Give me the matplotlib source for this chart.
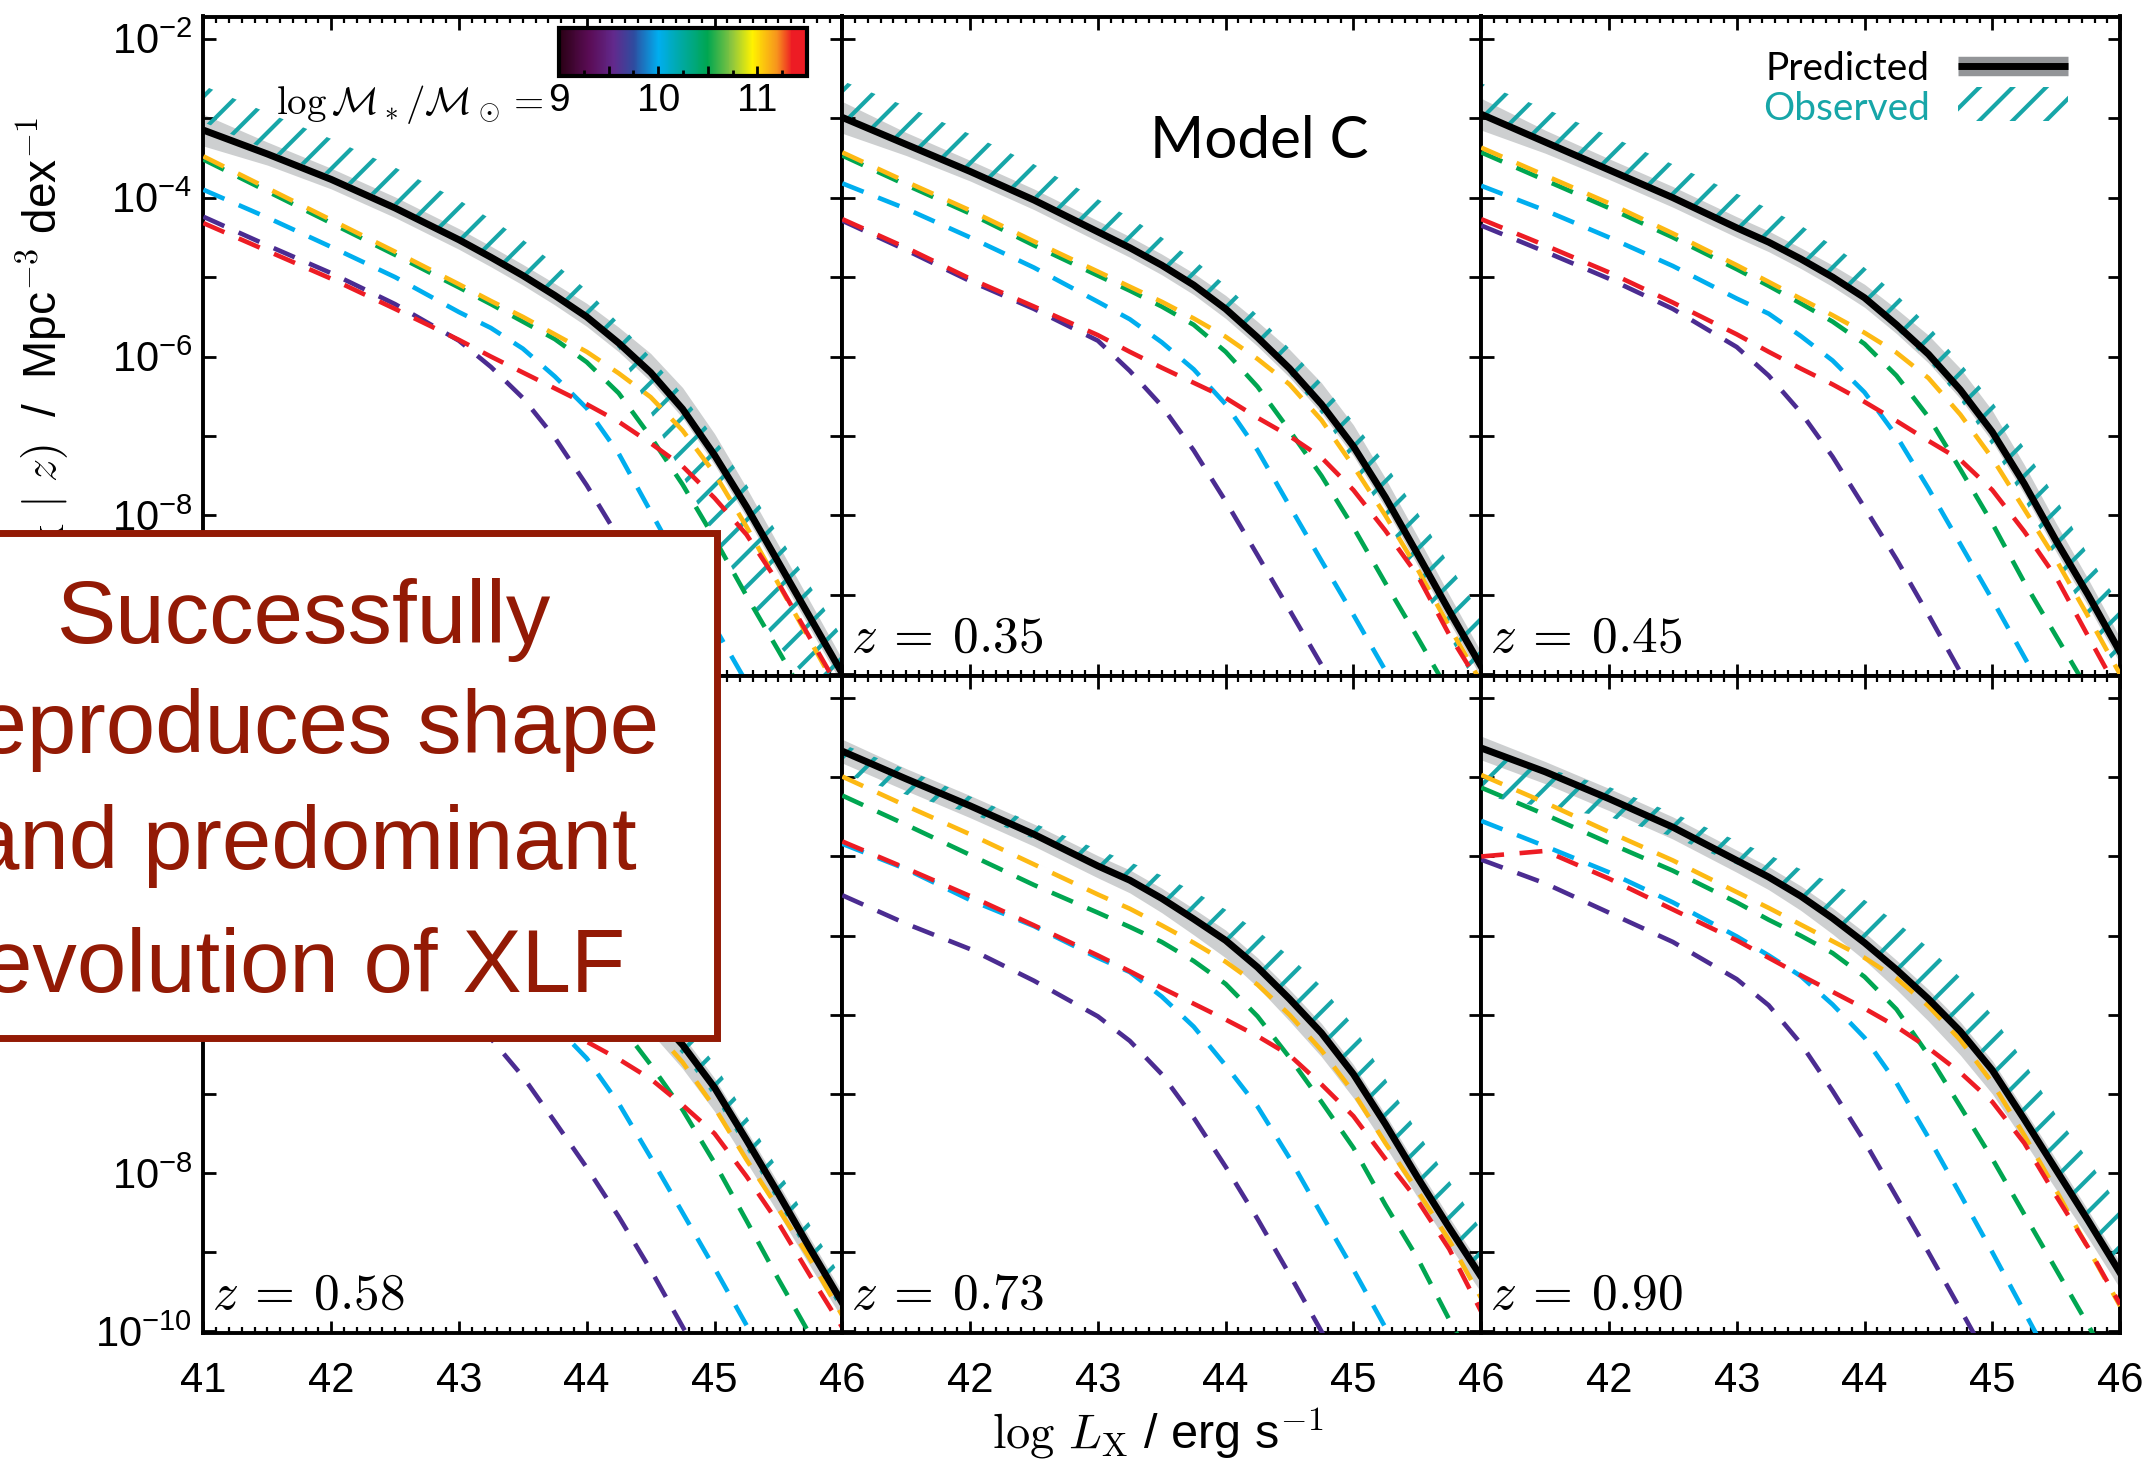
import numpy as np
import matplotlib
matplotlib.use("Agg")
import matplotlib.pyplot as plt
from matplotlib.ticker import MultipleLocator, LogLocator, NullLocator, FuncFormatter, FixedLocator
from matplotlib.colors import LinearSegmentedColormap, Normalize
from matplotlib.cm import ScalarMappable
from matplotlib.patches import Rectangle

nan = np.nan

# ---------------- data (log10 of space density, Mpc^-3 dex^-1) ----------------
LX = [41, 41.5, 42, 42.5, 43, 43.25, 43.5, 43.75, 44, 44.25, 44.5, 44.75, 45, 45.25, 45.5, 45.75, 46]

# panel 1 (top-left)
p1_black  = [-3.15, -3.45, -3.77, -4.13, -4.53, -4.75, -4.98, -5.23, -5.50, -5.83, -6.20, -6.66, -7.24, -7.89, -8.59, -9.29, -9.99]
p1_obs_hi = [-2.59, -2.93, -3.26, -3.62, -4.03, -4.27, -4.53, -4.83, -5.16, -5.58, -6.01, -6.48, -7.03, -7.61, -8.24, -8.89, -9.54]
p1_obs_lo = [-3.05, -3.40, -3.72, -4.08, -4.50, -4.72, -4.95, -5.20, -5.48, -5.90, -6.70, -7.50, -8.25, -9.00, -9.63, -10.1, -10.5]
p1_orange = [-3.48, -3.88, -4.28, -4.68, -5.09, -5.30, -5.50, -5.72, -5.94, -6.21, -6.51, -6.93, -7.47, -8.14, -8.86, -9.58, -10.3]
p1_green  = [-3.52, -3.92, -4.32, -4.72, -5.13, -5.34, -5.56, -5.78, -6.07, -6.46, -7.01, -7.61, -8.29, -9.01, -9.70, -10.4, -11.1]
p1_cyan   = [-3.90, -4.25, -4.62, -5.00, -5.44, -5.64, -5.90, -6.25, -6.65, -7.22, -7.95, -8.68, -9.40, -10.1, -10.8, nan, nan]
p1_purple = [-4.24, -4.60, -4.95, -5.34, -5.80, -6.13, -6.52, -7.02, -7.62, -8.28, -8.98, -9.70, -10.42, -11.1, nan, nan, nan]
p1_red    = [-4.32, -4.67, -5.02, -5.40, -5.79, -6.00, -6.20, -6.40, -6.60, -6.82, -7.09, -7.38, -7.78, -8.24, -8.85, -9.55, -10.25]

# panel 2 (z = 0.35)
p2_black  = [-2.99, -3.33, -3.67, -4.03, -4.43, -4.63, -4.85, -5.10, -5.40, -5.76, -6.15, -6.60, -7.13, -7.77, -8.48, -9.20, -9.90]
p2_obs_hi = [-2.53, -2.85, -3.20, -3.58, -4.02, -4.25, -4.50, -4.78, -5.10, -5.48, -5.90, -6.34, -6.82, -7.35, -7.96, -8.62, -9.25]
p2_obs_lo = [-2.95, -3.30, -3.63, -3.98, -4.40, -4.60, -4.82, -5.08, -5.40, -5.78, -6.22, -6.72, -7.32, -8.02, -8.77, -9.52, -10.25]
p2_orange = [-3.43, -3.80, -4.16, -4.55, -4.93, -5.12, -5.31, -5.52, -5.75, -6.03, -6.35, -6.80, -7.38, -8.00, -8.67, -9.40, -10.1]
p2_green  = [-3.47, -3.84, -4.20, -4.60, -4.98, -5.17, -5.37, -5.60, -5.94, -6.38, -6.93, -7.50, -8.15, -8.85, -9.53, -10.23, -10.92]
p2_cyan   = [-3.82, -4.14, -4.50, -4.88, -5.31, -5.53, -5.82, -6.16, -6.60, -7.18, -7.88, -8.57, -9.25, -9.95, -10.7, nan, nan]
p2_purple = [-4.29, -4.66, -5.05, -5.40, -5.80, -6.18, -6.62, -7.18, -7.82, -8.50, -9.19, -9.88, -10.57, nan, nan, nan, nan]
p2_red    = [-4.27, -4.63, -5.02, -5.37, -5.73, -5.94, -6.14, -6.33, -6.52, -6.77, -7.00, -7.27, -7.68, -8.19, -8.75, -9.50, -10.15]

# panel 3 (z = 0.45)
p3_black  = [-2.95, -3.30, -3.65, -4.00, -4.38, -4.56, -4.77, -5.00, -5.26, -5.60, -5.97, -6.42, -6.95, -7.60, -8.32, -9.00, -9.72]
p3_obs_hi = [-2.56, -2.88, -3.22, -3.58, -3.95, -4.14, -4.35, -4.60, -4.88, -5.22, -5.61, -6.08, -6.57, -7.15, -7.79, -8.50, -9.13]
p3_obs_lo = [-2.98, -3.32, -3.67, -4.03, -4.42, -4.61, -4.80, -5.04, -5.30, -5.66, -6.05, -6.55, -7.12, -7.80, -8.55, -9.30, -10.0]
p3_orange = [-3.37, -3.72, -4.07, -4.45, -4.85, -5.06, -5.27, -5.48, -5.70, -5.95, -6.27, -6.73, -7.28, -7.92, -8.56, -9.27, -10.0]
p3_green  = [-3.43, -3.78, -4.13, -4.50, -4.90, -5.11, -5.33, -5.56, -5.84, -6.24, -6.76, -7.42, -8.10, -8.84, -9.52, -10.2, -10.9]
p3_cyan   = [-3.85, -4.16, -4.50, -4.86, -5.27, -5.46, -5.74, -6.05, -6.45, -7.00, -7.66, -8.36, -9.06, -9.78, -10.5, nan, nan]
p3_purple = [-4.35, -4.68, -5.02, -5.40, -5.88, -6.24, -6.70, -7.26, -7.90, -8.55, -9.25, -9.97, -10.7, nan, nan, nan, nan]
p3_red    = [-4.27, -4.60, -4.94, -5.32, -5.72, -5.94, -6.15, -6.35, -6.57, -6.81, -7.06, -7.30, -7.68, -8.20, -8.78, -9.52, -10.25]

# panel 4 (z = 0.58)
p4_black  = [-2.80, -3.15, -3.50, -3.88, -4.28, -4.48, -4.70, -4.95, -5.23, -5.56, -5.94, -6.38, -6.92, -7.58, -8.26, -8.96, -9.64]
p4_obs_hi = [-2.45, -2.78, -3.12, -3.48, -3.86, -4.06, -4.28, -4.55, -4.86, -5.22, -5.62, -6.08, -6.62, -7.28, -7.96, -8.66, -9.34]
p4_obs_lo = [-2.95, -3.30, -3.65, -4.02, -4.42, -4.62, -4.84, -5.08, -5.35, -5.68, -6.06, -6.50, -7.04, -7.70, -8.38, -9.08, -9.76]
p4_orange = [-3.20, -3.55, -3.92, -4.30, -4.70, -4.90, -5.10, -5.32, -5.55, -5.81, -6.14, -6.60, -7.17, -7.83, -8.45, -9.09, -9.80]
p4_green  = [-3.35, -3.70, -4.05, -4.42, -4.80, -5.00, -5.20, -5.43, -5.70, -6.10, -6.63, -7.20, -7.87, -8.60, -9.34, -10.05, -10.8]
p4_cyan   = [-3.85, -4.15, -4.50, -4.88, -5.30, -5.52, -5.80, -6.13, -6.55, -7.12, -7.80, -8.50, -9.20, -9.92, -10.65, nan, nan]
p4_purple = [-4.40, -4.75, -5.10, -5.50, -5.92, -6.30, -6.78, -7.35, -7.93, -8.55, -9.22, -9.94, -10.65, nan, nan, nan, nan]
p4_red    = [-4.10, -4.45, -4.82, -5.20, -5.60, -5.79, -5.98, -6.16, -6.34, -6.56, -6.81, -7.14, -7.50, -8.04, -8.63, -9.30, -9.95]

# panel 5 (z = 0.73)
p5_black  = [-2.67, -3.02, -3.36, -3.72, -4.12, -4.30, -4.53, -4.79, -5.06, -5.40, -5.80, -6.23, -6.75, -7.38, -8.05, -8.69, -9.31]
p5_obs_hi = [-2.58, -2.90, -3.24, -3.58, -3.91, -4.07, -4.24, -4.44, -4.67, -4.94, -5.26, -5.64, -6.14, -6.81, -7.48, -8.10, -8.72]
p5_obs_lo = [-2.95, -3.22, -3.45, -3.78, -4.13, -4.32, -4.52, -4.76, -5.03, -5.36, -5.76, -6.18, -6.68, -7.35, -8.02, -8.65, -9.26]
p5_orange = [-2.99, -3.36, -3.72, -4.10, -4.48, -4.66, -4.87, -5.09, -5.33, -5.62, -6.00, -6.45, -6.98, -7.62, -8.22, -8.85, -9.58]
p5_green  = [-3.23, -3.60, -3.98, -4.36, -4.71, -4.89, -5.08, -5.32, -5.61, -6.02, -6.54, -7.10, -7.68, -8.40, -9.07, -9.85, -10.6]
p5_cyan   = [-3.84, -4.16, -4.55, -4.88, -5.28, -5.46, -5.77, -6.15, -6.64, -7.16, -7.81, -8.52, -9.22, -9.95, -10.7, nan, nan]
p5_purple = [-4.49, -4.85, -5.17, -5.57, -6.02, -6.33, -6.75, -7.30, -7.92, -8.58, -9.28, -10.0, -10.75, nan, nan, nan, nan]
p5_red    = [-3.81, -4.15, -4.50, -4.87, -5.25, -5.45, -5.66, -5.86, -6.06, -6.27, -6.51, -6.88, -7.28, -7.82, -8.34, -8.96, -9.75]

# panel 6 (z = 0.90)
p6_black  = [-2.63, -2.93, -3.27, -3.63, -4.05, -4.26, -4.50, -4.78, -5.09, -5.43, -5.80, -6.21, -6.70, -7.32, -7.96, -8.60, -9.26]
p6_obs_hi = [-2.70, -2.88, -3.12, -3.45, -3.80, -3.98, -4.16, -4.34, -4.55, -4.83, -5.15, -5.53, -6.01, -6.60, -7.27, -7.83, -8.45]
p6_obs_lo = [-3.23, -3.38, -3.50, -3.75, -4.10, -4.28, -4.50, -4.77, -5.06, -5.40, -5.78, -6.15, -6.62, -7.28, -7.90, -8.52, -9.20]
p6_orange = [-2.97, -3.32, -3.69, -4.05, -4.45, -4.65, -4.86, -5.07, -5.28, -5.54, -5.89, -6.32, -6.86, -7.52, -8.22, -8.95, -9.68]
p6_green  = [-3.13, -3.47, -3.83, -4.18, -4.58, -4.80, -5.00, -5.22, -5.52, -5.93, -6.51, -7.16, -7.82, -8.52, -9.22, -9.92, -10.65]
p6_cyan   = [-3.55, -3.87, -4.20, -4.58, -5.01, -5.25, -5.51, -5.87, -6.29, -6.86, -7.55, -8.27, -9.00, -9.75, -10.5, nan, nan]
p6_purple = [-4.04, -4.34, -4.71, -5.08, -5.55, -5.88, -6.36, -6.96, -7.60, -8.30, -9.00, -9.72, -10.45, nan, nan, nan, nan]
p6_red    = [-4.00, -3.93, -4.28, -4.67, -5.06, -5.28, -5.50, -5.71, -5.92, -6.15, -6.42, -6.73, -7.10, -7.62, -8.29, -8.94, -9.66]

# half-widths of the grey (predicted) band, dex
grey_up_top = [0.20, 0.15, 0.14, 0.14, 0.14, 0.14, 0.14, 0.15, 0.17, 0.20, 0.24, 0.27, 0.27, 0.24, 0.22, 0.20, 0.18]
grey_dn_top = [0.20, 0.14, 0.12, 0.12, 0.12, 0.12, 0.12, 0.12, 0.12, 0.11, 0.11, 0.11, 0.12, 0.13, 0.14, 0.14, 0.14]
grey_up_bot = [0.15, 0.13, 0.13, 0.13, 0.13, 0.13, 0.13, 0.13, 0.13, 0.12, 0.12, 0.12, 0.12, 0.12, 0.13, 0.13, 0.13]
grey_dn_bot = [0.15, 0.15, 0.15, 0.15, 0.15, 0.16, 0.18, 0.20, 0.22, 0.25, 0.28, 0.30, 0.30, 0.28, 0.25, 0.22, 0.20]

z_labels = ['', '0.35', '0.45', '0.58', '0.73', '0.90']
x_ticks = [41, 42, 43, 44, 45, 46]
ytick_labels_shown = [[-2, -4, -6, -8], [-8, -10]]   # left panels, top / bottom row
mass_ticks = [9, 10, 11]
box_lines = ['Successfully', 'reproduces shape', 'and predominant', 'evolution of XLF']

# ---------------- style ----------------
TEAL = '#17A6A8'
GREY = '#CDCFD0'
PURPLE = '#4B2C91'
CYAN = '#00AEEF'
GREEN = '#00A651'
ORANGE = '#FDB913'
RED = '#ED1C24'
DARKRED = '#931A05'

plt.rcParams['font.family'] = ['Liberation Sans', 'DejaVu Sans']
plt.rcParams['mathtext.fontset'] = 'cm'
plt.rcParams['hatch.linewidth'] = 3.0
plt.rcParams['hatch.color'] = TEAL
plt.rcParams['axes.linewidth'] = 2.8

fig = plt.figure(figsize=(21.55, 14.61), dpi=100)

panels = []
for blk, hi, lo, o, g, c, p, r in [
        (p1_black, p1_obs_hi, p1_obs_lo, p1_orange, p1_green, p1_cyan, p1_purple, p1_red),
        (p2_black, p2_obs_hi, p2_obs_lo, p2_orange, p2_green, p2_cyan, p2_purple, p2_red),
        (p3_black, p3_obs_hi, p3_obs_lo, p3_orange, p3_green, p3_cyan, p3_purple, p3_red),
        (p4_black, p4_obs_hi, p4_obs_lo, p4_orange, p4_green, p4_cyan, p4_purple, p4_red),
        (p5_black, p5_obs_hi, p5_obs_lo, p5_orange, p5_green, p5_cyan, p5_purple, p5_red),
        (p6_black, p6_obs_hi, p6_obs_lo, p6_orange, p6_green, p6_cyan, p6_purple, p6_red)]:
    panels.append(dict(black=blk, hi=hi, lo=lo, orange=o, green=g, cyan=c, purple=p, red=r))

L0 = 203.4 / 2155.0
W = 638.9 / 2155.0
rows_y = [1 - 676.0 / 1461.0, 1 - 1333.0 / 1461.0]
rows_h = [(676.0 - 16.5) / 1461.0, (1333.0 - 676.0) / 1461.0]


def make_yfmt(shown):
    def f(v, pos):
        e = int(round(np.log10(v)))
        if e in shown:
            return r'$\mathregular{10^{%d}}$' % e
        return ''
    return FuncFormatter(f)


def make_xfmt(show41):
    def f(v, pos):
        n = int(round(v))
        if n == 41 and not show41:
            return ''
        return '%d' % n
    return FuncFormatter(f)


x = np.array(LX)
axes = []
for k, P in enumerate(panels):
    r, c = divmod(k, 3)
    ax = fig.add_axes([L0 + c * W, rows_y[r], W, rows_h[r]])
    axes.append(ax)
    ax.set_yscale('log')
    ax.set_xlim(41, 46)
    ax.set_ylim(10 ** -10.02, 10 ** -1.72)

    blk = np.array(P['black'])
    gup = np.array(grey_up_top if r == 0 else grey_up_bot)
    gdn = np.array(grey_dn_top if r == 0 else grey_dn_bot)
    ax.fill_between(x, 10 ** (blk - gdn), 10 ** (blk + gup), color=GREY, lw=0, zorder=1)
    ax.fill_between(x, 10 ** np.array(P['lo']), 10 ** np.array(P['hi']),
                    facecolor='none', edgecolor=TEAL, hatch='/', lw=0, zorder=2)
    for name, col in [('purple', PURPLE), ('cyan', CYAN), ('green', GREEN),
                      ('orange', ORANGE), ('red', RED)]:
        ax.plot(x, 10 ** np.array(P[name]), color=col, lw=3.3,
                dashes=(5.0, 3.4), zorder=3)
    ax.plot(x, 10 ** blk, color='k', lw=5.0, zorder=5)

    ax.xaxis.set_major_locator(FixedLocator(x_ticks))
    ax.xaxis.set_minor_locator(MultipleLocator(0.1))
    ax.yaxis.set_major_locator(LogLocator(base=10, subs=(1.0,), numticks=30))
    ax.yaxis.set_minor_locator(NullLocator())
    ax.tick_params(which='both', direction='in', top=True, right=True)
    ax.tick_params(which='major', length=9, width=2.0)
    ax.tick_params(which='minor', length=4.5, width=1.6)
    ax.tick_params(axis='x', which='major', pad=20, labelsize=30)
    ax.tick_params(axis='y', which='major', pad=8, labelsize=30)
    if r == 0:
        ax.tick_params(axis='x', labelbottom=False)
    else:
        ax.xaxis.set_major_formatter(make_xfmt(c == 0))
    if c == 0:
        ax.yaxis.set_major_formatter(make_yfmt(ytick_labels_shown[r]))
    else:
        ax.tick_params(axis='y', labelleft=False)

    if z_labels[k]:
        ax.text(0.014, 0.02, r'$z\:=\:%s$' % z_labels[k], transform=ax.transAxes,
                fontsize=37, ha='left', va='bottom', math_fontfamily='cm', zorder=6)

# Model C
axes[1].text(0.653, 0.81, 'Model C', transform=axes[1].transAxes, ha='center',
             va='center', fontsize=42, family=['Lato', 'DejaVu Sans'])

# legend in panel 3
a3 = axes[2]
a3.plot([0.746, 0.918], [0.925, 0.925], transform=a3.transAxes, color='#939598',
        lw=14, solid_capstyle='butt', clip_on=False, zorder=7)
a3.plot([0.746, 0.918], [0.925, 0.925], transform=a3.transAxes, color='k',
        lw=5, solid_capstyle='butt', clip_on=False, zorder=8)
a3.add_patch(Rectangle((0.746, 0.841), 0.172, 0.052, transform=a3.transAxes,
                       facecolor='none', edgecolor=TEAL, hatch='/', lw=0, zorder=7))
a3.text(0.702, 0.921, 'Predicted', transform=a3.transAxes, ha='right', va='center',
        fontsize=28, color='k', family=['Lato', 'DejaVu Sans'])
a3.text(0.702, 0.860, 'Observed', transform=a3.transAxes, ha='right', va='center',
        fontsize=28, color=TEAL, family=['Lato', 'DejaVu Sans'])

# colour bar of stellar mass
cmap = LinearSegmentedColormap.from_list('mass', [
    (0.00, '#2a0014'), (0.12, '#5a0c55'), (0.22, '#62298c'), (0.30, '#2e4c9f'),
    (0.40, '#00aeef'), (0.50, '#00a99d'), (0.60, '#00a651'), (0.70, '#8dc63f'),
    (0.78, '#fff200'), (0.88, '#f7941d'), (0.94, '#ed1c24'), (1.00, '#ed1c24')])
cax = fig.add_axes([559 / 2155.0, 1 - 75.6 / 1461.0, (807 - 559) / 2155.0, (75.6 - 27.5) / 1461.0])
sm = ScalarMappable(norm=Normalize(vmin=9, vmax=11.5), cmap=cmap)
cb = fig.colorbar(sm, cax=cax, orientation='horizontal')
cb.outline.set_linewidth(3.0)
cax.xaxis.set_major_locator(MultipleLocator(0.5))
cax.xaxis.set_minor_locator(MultipleLocator(0.25))
cax.xaxis.set_major_formatter(FuncFormatter(
    lambda v, p: ('%d' % round(v)) if round(v) in mass_ticks and abs(v - round(v)) < 1e-6 else ''))
cax.tick_params(which='both', direction='in', bottom=True, top=False, width=2.0)
cax.tick_params(which='major', length=7, labelsize=28, pad=5)
cax.tick_params(which='minor', length=4)
fig.text(543 / 2155.0, 1 - 105 / 1461.0, r'$\log\mathcal{M}_*/\mathcal{M}_\odot=$',
         ha='right', va='center', fontsize=28, math_fontfamily='cm')

# axis labels
fig.text(0.537, 0.019, r'$\log\,L_{\mathrm{X}}$ / erg s$^{-1}$', ha='center', va='center',
         fontsize=35, math_fontfamily='cm')
fig.text(0.020, 0.92, r'$\phi(L_{\mathrm{X}}\ |\ z)$  /  Mpc$^{-3}$ dex$^{-1}$', rotation=90,
         ha='center', va='top', fontsize=33, math_fontfamily='cm')

# annotation box
fig.add_artist(Rectangle((-0.05, 0.2897), 0.3829, 0.3455, transform=fig.transFigure,
                         facecolor='white', edgecolor=DARKRED, lw=5, zorder=20))
baselines = [1 - 643 / 1461.0, 1 - 753 / 1461.0, 1 - 869 / 1461.0, 1 - 992 / 1461.0]
for txt, yb in zip(box_lines, baselines):
    fig.text(0.141, yb, txt, ha='center', va='baseline', fontsize=64, color=DARKRED,
             zorder=21)

fig.savefig('out.png', dpi=100)
